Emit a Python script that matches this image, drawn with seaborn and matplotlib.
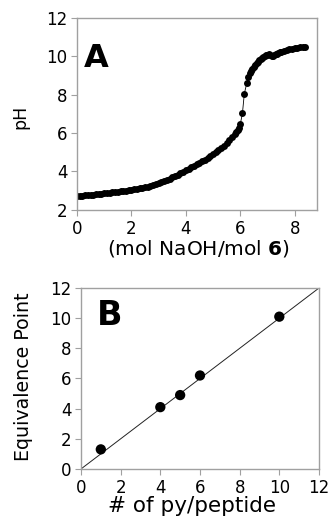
import numpy as np
import pandas as pd
import matplotlib
matplotlib.use("Agg")
import matplotlib.pyplot as plt
import seaborn as sns

# Panel A: titration curve (mol NaOH / mol 6 vs pH)
naoh_ratio = [0.0, 0.1, 0.2, 0.3, 0.4, 0.5, 0.6, 0.7, 0.8, 0.9,
              1.0, 1.1, 1.2, 1.3, 1.4, 1.5, 1.6, 1.7, 1.8, 1.9,
              2.0, 2.1, 2.2, 2.3, 2.4, 2.5, 2.6, 2.7, 2.8, 2.9,
              3.0, 3.1, 3.2, 3.3, 3.4, 3.5, 3.6, 3.7, 3.8, 3.9,
              4.0, 4.1, 4.2, 4.3, 4.4, 4.5, 4.6, 4.7, 4.8, 4.9,
              5.0, 5.1, 5.2, 5.3, 5.4, 5.5, 5.6, 5.7, 5.8, 5.85,
              5.9, 5.95, 6.0, 6.08, 6.15, 6.24, 6.30, 6.35, 6.4, 6.45,
              6.5, 6.55, 6.6, 6.65, 6.7, 6.75, 6.8, 6.85, 6.9, 6.95,
              7.0, 7.05, 7.1, 7.15, 7.2, 7.25, 7.3, 7.35, 7.4, 7.45,
              7.5, 7.6, 7.7, 7.8, 7.9, 8.0, 8.1, 8.2, 8.3, 8.38]
ph_values = [2.72, 2.73, 2.74, 2.76, 2.77, 2.79, 2.80, 2.82, 2.84, 2.85,
             2.87, 2.88, 2.90, 2.92, 2.93, 2.95, 2.97, 2.99, 3.01, 3.03,
             3.05, 3.08, 3.10, 3.13, 3.16, 3.19, 3.22, 3.26, 3.30, 3.34,
             3.38, 3.44, 3.50, 3.56, 3.62, 3.69, 3.76, 3.84, 3.91, 3.99,
             4.06, 4.14, 4.21, 4.29, 4.37, 4.45, 4.53, 4.62, 4.71, 4.80,
             4.90, 5.00, 5.10, 5.21, 5.33, 5.48, 5.62, 5.77, 5.94, 6.03,
             6.14, 6.28, 6.45, 7.02, 8.05, 8.58, 8.92, 9.10, 9.24, 9.35,
             9.45, 9.54, 9.62, 9.70, 9.77, 9.84, 9.90, 9.95, 9.99, 10.03,
             10.06, 10.08, 10.07, 10.01, 10.02, 10.06, 10.10, 10.13, 10.16, 10.19,
             10.22, 10.26, 10.30, 10.34, 10.37, 10.40, 10.42, 10.45, 10.47, 10.48]

# Panel B: equivalence point vs number of py per peptide
py_per_peptide = [1, 4, 5, 6, 10]
equiv_point = [1.3, 4.1, 4.9, 6.2, 10.1]
ref_line = [0, 12]  # y = x

sns.set_style("white")
plt.rcParams["font.family"] = ["DejaVu Sans"]
plt.rcParams["mathtext.fontset"] = "custom"
plt.rcParams["mathtext.bf"] = "DejaVu Sans:bold"
plt.rcParams["text.color"] = "black"
plt.rcParams["axes.labelcolor"] = "black"

spine_col = "#a0a0a0"

fig = plt.figure(figsize=(3.33, 5.23), dpi=100)
ax1 = fig.add_axes([0.2312, 0.5985, 0.7207, 0.368])
ax2 = fig.add_axes([0.2432, 0.1033, 0.7147, 0.346])

df_a = pd.DataFrame({"x": naoh_ratio, "ph": ph_values})
sns.lineplot(data=df_a, x="x", y="ph", ax=ax1, color="black", linewidth=0.6,
             marker="o", markersize=5, markeredgewidth=0, estimator=None)
ax1.set_xlim(0, 8.82)
ax1.set_ylim(2, 12)
ax1.set_xticks([0, 2, 4, 6, 8])
ax1.set_yticks([2, 4, 6, 8, 10, 12])
ax1.set_ylabel("pH", fontsize=12.5)
ax1.set_xlabel(r"(mol NaOH/mol $\bf{6}$)", fontsize=14.5)
ax1.yaxis.set_label_coords(-0.20, 0.483)
ax1.xaxis.set_label_coords(0.506, -0.145)
ax1.text(0.03, 0.744, "A", transform=ax1.transAxes, fontsize=23,
         fontweight="bold", va="baseline", ha="left")

df_b = pd.DataFrame({"n": py_per_peptide, "eq": equiv_point})
ax2.plot(ref_line, ref_line, color="#222222", linewidth=0.7)
sns.scatterplot(data=df_b, x="n", y="eq", ax=ax2, color="black", s=55,
                edgecolor="none", zorder=3)
ax2.set_xlim(0, 12)
ax2.set_ylim(0, 12)
ax2.set_xticks(range(0, 13, 2))
ax2.set_yticks(range(0, 13, 2))
ax2.set_ylabel("Equivalence Point", fontsize=13.7)
ax2.set_xlabel("# of py/peptide", fontsize=15.5)
ax2.yaxis.set_label_coords(-0.20, 0.508)
ax2.xaxis.set_label_coords(0.468, -0.15)
ax2.text(0.067, 0.796, "B", transform=ax2.transAxes, fontsize=24,
         fontweight="bold", va="baseline", ha="left")

for ax in (ax1, ax2):
    for sp in ax.spines.values():
        sp.set_color(spine_col)
        sp.set_linewidth(1.0)
    ax.tick_params(axis="both", direction="out", length=4, width=0.8,
                   color=spine_col, labelcolor="black", labelsize=12, pad=3,
                   bottom=True, left=True)

fig.savefig("out.png", dpi=100)
